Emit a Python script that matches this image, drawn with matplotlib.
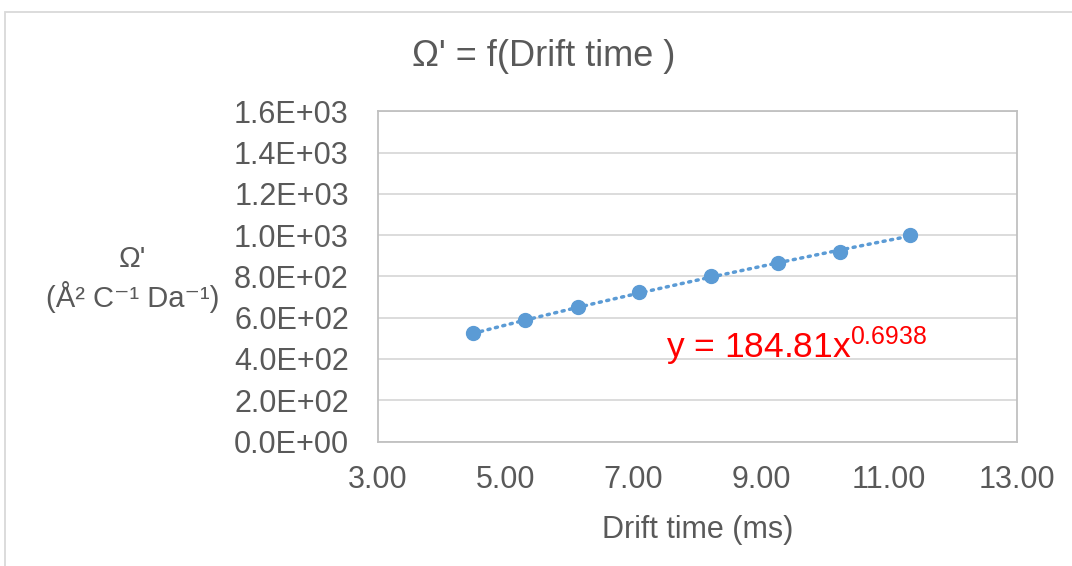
import numpy as np
import matplotlib.pyplot as plt
from matplotlib.patches import Rectangle

plt.rcParams['font.family'] = ['Liberation Sans', 'DejaVu Sans']
plt.rcParams['mathtext.fontset'] = 'custom'
plt.rcParams['mathtext.rm'] = 'Liberation Sans'
plt.rcParams['mathtext.it'] = 'Liberation Sans'

# data
drift_time = [4.49, 5.30, 6.13, 7.08, 8.21, 9.26, 10.23, 11.33]
omega = [524, 588, 650, 725, 803, 867, 916, 1000]
fit_a = 184.81
fit_b = 0.6938
x_ticks = [3, 5, 7, 9, 11, 13]
y_ticks = [0, 200, 400, 600, 800, 1000, 1200, 1400, 1600]
y_labels = ["0.0E+00", "2.0E+02", "4.0E+02", "6.0E+02", "8.0E+02",
            "1.0E+03", "1.2E+03", "1.4E+03", "1.6E+03"]

blue = '#5b9bd5'
grey_txt = '#595959'

fig = plt.figure(figsize=(10.72, 5.66), dpi=100)
ax = fig.add_axes([378 / 1072, 1 - 441.6 / 566, 639 / 1072, 330.4 / 566])

# power trendline between first and last point
xt = np.linspace(drift_time[0], drift_time[-1], 100)
ax.plot(xt, fit_a * xt ** fit_b, color=blue, lw=2.5, linestyle=(0, (0.6, 1.6)),
        dash_capstyle='round', zorder=2)
ax.plot(drift_time, omega, 'o', color=blue, ms=10, zorder=3)

ax.set_xlim(3, 13)
ax.set_ylim(0, 1600)
ax.set_xticks(x_ticks)
ax.set_xticklabels([f"{v:.2f}" for v in x_ticks])
ax.set_yticks(y_ticks)
ax.set_yticklabels(y_labels)
ax.tick_params(length=0, labelsize=22, labelcolor=grey_txt)
ax.tick_params(axis='x', pad=17)
ax.tick_params(axis='y', pad=21)
ax.grid(axis='y', color='#d9d9d9', lw=1.3)
ax.set_axisbelow(True)
for s in ax.spines.values():
    s.set_color('#c0c0c0')
    s.set_linewidth(1.3)

ax.set_xlabel("Drift time (ms)", fontsize=22, color=grey_txt, labelpad=14)

fig.text(544 / 1072, 1 - 57 / 566, "Ω' = f(Drift time )", fontsize=26,
         color=grey_txt, ha='center', va='center')
fig.text(132 / 1072, 1 - 259 / 566, "Ω'", fontsize=21, color=grey_txt,
         ha='center', va='center')
fig.text(133 / 1072, 1 - 297 / 566, "(Å² C⁻¹ Da⁻¹)", fontsize=21,
         color=grey_txt, ha='center', va='center')
fig.text(666 / 1072, 1 - 346 / 566, "y = 184.81x$^{0.6938}$", fontsize=25.5,
         color='#ff0000', ha='left', va='center')

fig.patches.append(Rectangle((5 / 1072, -0.1), 1.2, 1.1 - 12 / 566,
                             transform=fig.transFigure, fill=False,
                             edgecolor='#d9d9d9', lw=1.3))

fig.savefig("out.png", dpi=100)
